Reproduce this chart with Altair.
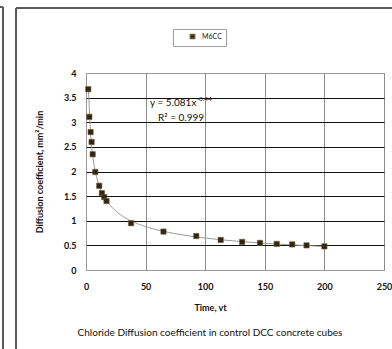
import altair as alt
import pandas as pd

# Diffusion coefficient measured at each sqrt(time) reading, mix M6CC
sqrt_time = [1.9, 2.8, 3.9, 4.7, 5.6, 7.8, 11.1, 13.3, 15.3, 17.2, 37.8, 65.0,
             92.5, 113.0, 131.0, 146.0, 160.0, 173.0, 185.0, 200.0]
diff_coef = [3.67, 3.11, 2.80, 2.60, 2.35, 1.99, 1.71, 1.56, 1.48, 1.40, 0.95, 0.78,
             0.69, 0.61, 0.57, 0.55, 0.53, 0.52, 0.50, 0.48]
series_name = "M6CC"

x_ticks = [0, 50, 100, 150, 200, 250]
y_ticks = [0, 0.5, 1, 1.5, 2, 2.5, 3, 3.5, 4]

eq_main = "y = 5.081x"
eq_exp = "-0.44"
eq_r2 = "R\u00b2 = 0.999"
x_title = "Time, vt"
y_title = "Diffusion coefficient, mm\u00b2/min"
caption = "Chloride Diffusion coefficient in control  DCC concrete cubes"

FONT = "Lato"
W, H = 298, 197
LEFT, TOP = 86, 73

df = pd.DataFrame({"t": sqrt_time, "D": diff_coef, "series": series_name})

x_enc = alt.X("t:Q", scale=alt.Scale(domain=[0, 250], nice=False),
              axis=alt.Axis(values=x_ticks, title=x_title, grid=True, gridColor="#8c8c8c",
                            gridWidth=1, domainColor="#9a9a9a", ticks=False,
                            labelFlush=False, labelPadding=12, labelFont=FONT,
                            labelFontSize=9, labelFontWeight="bold", labelColor="#111",
                            titleFont=FONT, titleFontSize=9, titleFontWeight="bold",
                            titleColor="#111", titleX=124, titleY=37,
                            titleAlign="center", titleBaseline="middle"))
y_enc = alt.Y("D:Q", scale=alt.Scale(domain=[0, 4], nice=False),
              axis=alt.Axis(values=y_ticks, format=".1~f", title=y_title, grid=True,
                            gridColor={"condition": {"test": "datum.value === 0 || datum.value === 4",
                                                     "value": "#9a9a9a"},
                                       "value": "#111111"},
                            gridWidth=1.2, domainColor="#9a9a9a", ticks=False,
                            labelFlush=False, labelPadding=10, labelFont=FONT,
                            labelFontSize=9, labelFontWeight="bold", labelColor="#111",
                            titleFont=FONT, titleFontSize=9, titleFontWeight="bold",
                            titleColor="#111", titleX=-47, titleY=H / 2,
                            titleAlign="center", titleBaseline="middle", titleAngle=270))

base = alt.Chart(df)

# power-law trendline fitted by Vega's regression transform
trend = base.transform_regression("t", "D", method="pow").mark_line(
    color="#9a9a9a", strokeWidth=1
).encode(x=x_enc, y=y_enc)

points = base.mark_point(shape="square", filled=True, size=28, opacity=1,
                         stroke="#6b5a2e", strokeWidth=0.6).encode(
    x=x_enc, y=y_enc,
    color=alt.Color("series:N", scale=alt.Scale(range=["#2f2616"]),
                    legend=alt.Legend(title=None, orient="none", legendX=87, legendY=-44,
                                      direction="horizontal", padding=4, symbolOffset=12,
                                      symbolType="square", symbolSize=18,
                                      labelFont=FONT, labelFontSize=7, labelColor="#222",
                                      labelOffset=6, strokeColor="#a0a0a0",
                                      fillColor="white"))
)

eq_df = pd.DataFrame({"a": [eq_main], "b": [eq_exp], "c": [eq_r2]})
eq_main_txt = alt.Chart(eq_df).mark_text(font=FONT, fontSize=10, align="left",
                                         baseline="alphabetic", color="#111").encode(
    text="a:N", x=alt.value(64), y=alt.value(33))
eq_exp_txt = alt.Chart(eq_df).mark_text(font=FONT, fontSize=6.5, align="left",
                                        baseline="alphabetic", color="#111").encode(
    text="b:N", x=alt.value(110.5), y=alt.value(28))
eq_r2_txt = alt.Chart(eq_df).mark_text(font=FONT, fontSize=10, align="left",
                                       baseline="alphabetic", color="#111").encode(
    text="c:N", x=alt.value(72), y=alt.value(48))

cap_df = pd.DataFrame({"c": [caption]})
cap_txt = alt.Chart(cap_df).mark_text(font=FONT, fontSize=10, align="center",
                                      baseline="middle", color="#111").encode(
    text="c:N", x=alt.value(124), y=alt.value(260))

# frame lines around the figure panel
frame_col = "#5a5a5a"
frame_top = alt.Chart(cap_df).mark_rule(color=frame_col, strokeWidth=2).encode(
    x=alt.value(-70), x2=alt.value(320), y=alt.value(-65))
frame_left = alt.Chart(cap_df).mark_rule(color=frame_col, strokeWidth=2).encode(
    x=alt.value(-70), y=alt.value(-65), y2=alt.value(290))
frame_prev = alt.Chart(cap_df).mark_rule(color=frame_col, strokeWidth=2).encode(
    x=alt.value(-83), y=alt.value(-66), y2=alt.value(290))
frame_prev_top = alt.Chart(cap_df).mark_rule(color=frame_col, strokeWidth=2).encode(
    x=alt.value(-90), x2=alt.value(-83), y=alt.value(-66))

chart = alt.layer(
    trend, points, eq_main_txt, eq_exp_txt, eq_r2_txt, cap_txt,
    frame_top, frame_left, frame_prev, frame_prev_top
).properties(
    width=W, height=H,
    padding={"left": LEFT, "top": TOP, "right": 392 - LEFT - W, "bottom": 349 - TOP - H},
    autosize=alt.AutoSizeParams(type="none"),
    background="white",
).configure_view(stroke="#9a9a9a", strokeWidth=1)

chart.save("out.html", embed_options={"renderer": "svg", "actions": False})
